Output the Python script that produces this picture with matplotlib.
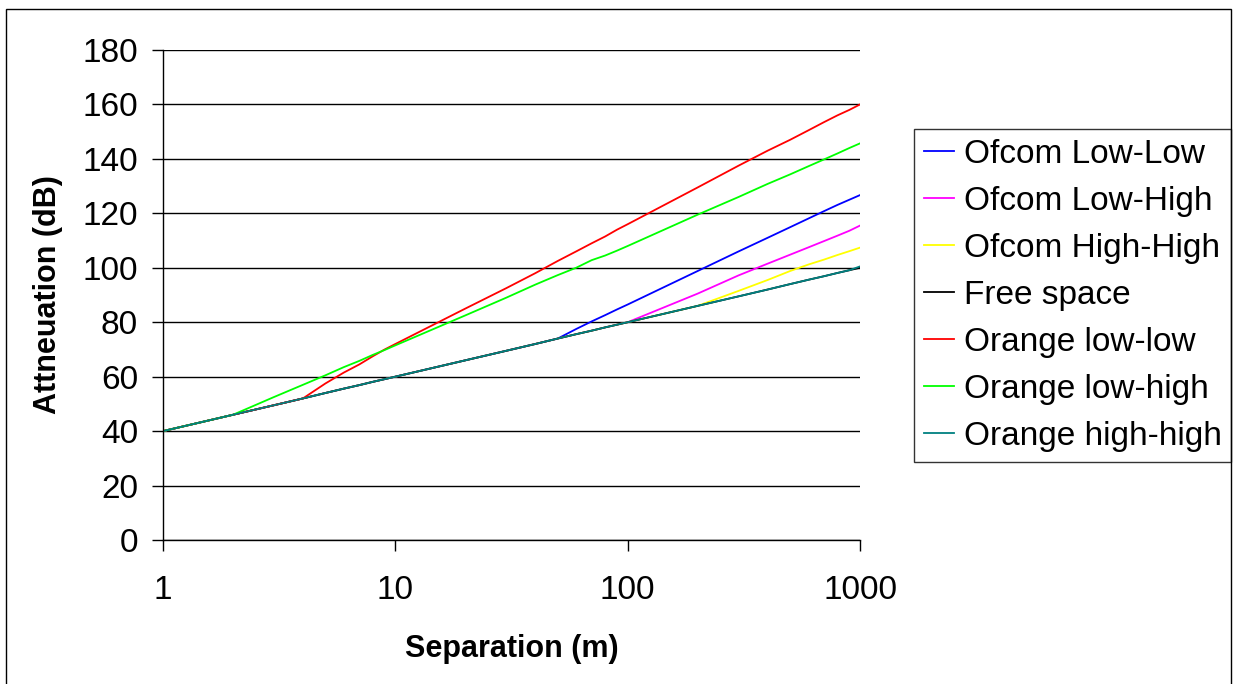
import matplotlib
matplotlib.use("Agg")
import matplotlib.pyplot as plt
from matplotlib.patches import Rectangle

plt.rcParams['font.family'] = ['Liberation Sans', 'DejaVu Sans']

# separation (m)
dist = [1, 2, 3, 4, 5, 6, 7, 8, 9, 10,
        20, 30, 40, 50, 60, 70, 80, 90, 100,
        200, 300, 400, 500, 600, 700, 800, 900, 1000]

# attenuation (dB)
free_space = [40, 46.0, 49.5, 52.0, 54.0, 55.6, 56.9, 58.1, 59.1, 60.0,
              66.0, 69.5, 72.0, 74.0, 75.6, 76.9, 78.1, 79.1, 80.0,
              86.0, 89.5, 92.0, 94.0, 95.6, 96.9, 98.1, 99.1, 100.0]
ofcom_ll = [40, 46.0, 49.5, 52.0, 54.0, 55.6, 56.9, 58.1, 59.1, 60.0,
            66.0, 69.5, 72.0, 74.0, 77.5, 80.3, 82.6, 84.7, 86.5,
            98.8, 106.0, 111.0, 114.9, 118.1, 120.8, 123.1, 125.0, 126.7]
ofcom_lh = [40, 46.0, 49.5, 52.0, 54.0, 55.6, 56.9, 58.1, 59.1, 60.0,
            66.0, 69.5, 72.0, 74.0, 75.6, 76.9, 78.1, 79.1, 80.0,
            90.5, 97.2, 101.5, 104.8, 107.5, 109.8, 111.8, 113.6, 115.5]
ofcom_hh = [40, 46.0, 49.5, 52.0, 54.0, 55.6, 56.9, 58.1, 59.1, 60.0,
            66.0, 69.5, 72.0, 74.0, 75.6, 76.9, 78.1, 79.1, 80.0,
            86.0, 91.5, 95.5, 98.8, 101.2, 103.0, 104.7, 106.1, 107.4]
orange_ll = [40, 46.0, 49.5, 52.0, 57.5, 61.5, 64.5, 67.5, 70.0, 72.0,
             85.0, 92.5, 98.0, 102.5, 106.0, 109.0, 111.5, 114.0, 116.0,
             129.5, 137.5, 143.0, 147.0, 150.5, 153.5, 156.0, 158.0, 160.0]
orange_lh = [40, 46.0, 52.5, 57.0, 60.5, 63.5, 65.8, 68.0, 69.8, 71.5,
             82.5, 89.0, 93.8, 97.3, 100.0, 102.8, 104.5, 106.3, 108.0,
             119.5, 126.0, 130.8, 134.3, 137.3, 139.8, 142.0, 144.0, 145.7]
orange_hh = [40, 46.0, 49.5, 52.0, 54.0, 55.6, 56.9, 58.1, 59.1, 60.0,
             66.0, 69.5, 72.0, 74.0, 75.6, 76.9, 78.1, 79.1, 80.0,
             86.0, 89.5, 92.0, 94.0, 95.6, 96.9, 98.1, 99.1, 100.5]

series = [
    ("Ofcom Low-Low", ofcom_ll, "#0000FF"),
    ("Ofcom Low-High", ofcom_lh, "#FF00FF"),
    ("Ofcom High-High", ofcom_hh, "#FFFF00"),
    ("Free space", free_space, "#000000"),
    ("Orange low-low", orange_ll, "#FF0000"),
    ("Orange low-high", orange_lh, "#00FF00"),
    ("Orange high-high", orange_hh, "#008080"),
]

fig = plt.figure(figsize=(12.39, 6.84), dpi=100)
ax = fig.add_axes([163 / 1239, 144 / 684, 697 / 1239, 490 / 684])

for name, vals, col in series:
    ax.plot(dist, vals, color=col, lw=1.3, label=name)

ax.set_xscale("log")
ax.set_xlim(1, 1000)
ax.set_ylim(0, 180)
ax.set_xticks([1, 10, 100, 1000])
ax.set_xticklabels(["1", "10", "100", "1000"])
ax.xaxis.set_minor_locator(matplotlib.ticker.NullLocator())
ax.set_yticks(range(0, 181, 20))
ax.yaxis.grid(True, color="black", lw=1)
ax.set_axisbelow(True)

for s in ["top", "right"]:
    ax.spines[s].set_visible(False)
ax.spines["left"].set_linewidth(1)
ax.spines["bottom"].set_linewidth(1)

ax.tick_params(axis="y", direction="out", length=8, width=1, labelsize=24, pad=10)
ax.tick_params(axis="x", direction="out", length=8, width=1, labelsize=24, pad=17)

ax.set_xlabel("Separation (m)", fontsize=22, fontweight="bold", labelpad=20)
ax.set_ylabel("Attneuation (dB)", fontsize=22, fontweight="bold", labelpad=14)

leg = ax.legend(loc="center", bbox_to_anchor=(0.8656, 0.5687),
                bbox_transform=fig.transFigure, fontsize=24, frameon=True,
                fancybox=False, handlelength=0.9, handletextpad=0.3,
                labelspacing=0.48, borderpad=0.3, borderaxespad=0)
leg.get_frame().set_edgecolor("black")
leg.get_frame().set_linewidth(1)

# outer chart border
fig.patches.append(Rectangle((6 / 1239, -0.01), 1225 / 1239, 1.01 - 9 / 684,
                             transform=fig.transFigure, fill=False,
                             edgecolor="black", lw=1))

fig.savefig("out.png", dpi=100)
